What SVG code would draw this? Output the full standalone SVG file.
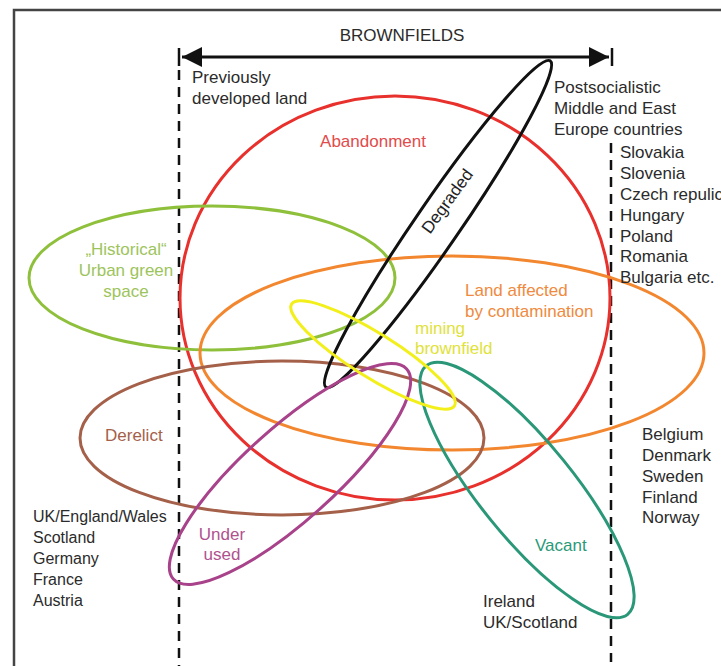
<svg xmlns="http://www.w3.org/2000/svg" width="721" height="666" viewBox="0 0 721 666">
<style>
text{font-family:"Liberation Sans",Arial,sans-serif;font-size:17px;fill:#2b2b2b}
.e{fill:none;stroke-width:3}
.dash{stroke:#111;stroke-width:2.5;stroke-dasharray:10 7;fill:none}
</style>
<defs>
<marker id="ah" viewBox="0 0 10 10" refX="10" refY="5" markerWidth="25" markerHeight="20" markerUnits="userSpaceOnUse" orient="auto-start-reverse">
<path d="M0,0 L10,5 L0,10 Z" fill="#111"/>
</marker>
</defs>
<rect width="721" height="666" fill="#fff"/>
<rect x="14" y="10" width="760" height="720" fill="none" stroke="#444" stroke-width="2.5"/>

<g id="connectors">
<line x1="182" y1="57" x2="609" y2="57" stroke="#111" stroke-width="3" marker-start="url(#ah)" marker-end="url(#ah)"/>
<line x1="179" y1="48" x2="179" y2="66" stroke="#111" stroke-width="2.5"/>
<line x1="612" y1="48" x2="612" y2="66" stroke="#111" stroke-width="2.5"/>
<line class="dash" x1="179" y1="70" x2="179" y2="666"/>
<line class="dash" x1="611" y1="143" x2="611" y2="662"/>
</g>

<g id="abandonment">
<ellipse class="e" cx="395" cy="298" rx="215" ry="202" stroke="#e8302c"/>
<text x="373" y="147" text-anchor="middle" style="fill:#e24b4b">Abandonment</text>
</g>
<g id="historical">
<ellipse class="e" cx="212" cy="278" rx="183" ry="72" stroke="#8fc03c"/>
<text x="126" y="255" text-anchor="middle" style="fill:#9dc45c">„Historical“</text>
<text x="126" y="276" text-anchor="middle" style="fill:#9dc45c">Urban green</text>
<text x="126" y="297" text-anchor="middle" style="fill:#9dc45c">space</text>
</g>
<g id="contamination">
<ellipse class="e" cx="452" cy="353" rx="252" ry="97" stroke="#f2872f"/>
<text x="465" y="296" style="fill:#ef8a40">Land affected</text>
<text x="465" y="317" style="fill:#ef8a40">by contamination</text>
</g>
<g id="derelict">
<ellipse class="e" cx="282" cy="438" rx="202" ry="77" stroke="#a5604a"/>
<text x="105" y="441" style="fill:#a5604a">Derelict</text>
</g>
<g id="degraded">
<ellipse class="e" cx="438" cy="224" rx="198" ry="22" transform="rotate(-55.5 438 224)" stroke="#111"/>
<text x="447" y="207" text-anchor="middle" transform="rotate(-54 447 201)" style="fill:#222">Degraded</text>
</g>
<g id="underused">
<ellipse class="e" cx="290" cy="474" rx="157" ry="46" transform="rotate(-42 290 474)" stroke="#a8428a"/>
<text x="222" y="540" text-anchor="middle" style="fill:#b0528f">Under</text>
<text x="222" y="560" text-anchor="middle" style="fill:#b0528f">used</text>
</g>
<g id="vacant">
<ellipse class="e" cx="527" cy="490" rx="160" ry="47" transform="rotate(51 527 490)" stroke="#2a9878"/>
<text x="535" y="551" style="fill:#2a9a78">Vacant</text>
</g>
<g id="mining">
<ellipse class="e" cx="373" cy="355" rx="96" ry="22" transform="rotate(32 373 355)" stroke="#f2ef1a"/>
<text x="415" y="334" style="fill:#dfe23a">mining</text>
<text x="415" y="354" style="fill:#dfe23a">brownfield</text>
</g>

<g id="labels">
<text x="402" y="41" text-anchor="middle">BROWNFIELDS</text>
<text x="192" y="83">Previously</text>
<text x="192" y="104">developed land</text>
<text x="554" y="93">Postsocialistic</text>
<text x="554" y="114">Middle and East</text>
<text x="554" y="135">Europe countries</text>
<text x="620" y="158">Slovakia</text>
<text x="620" y="179">Slovenia</text>
<text x="620" y="200">Czech repulic</text>
<text x="620" y="221">Hungary</text>
<text x="620" y="242">Poland</text>
<text x="620" y="262">Romania</text>
<text x="620" y="283">Bulgaria etc.</text>
<text x="642" y="440">Belgium</text>
<text x="642" y="461">Denmark</text>
<text x="642" y="482">Sweden</text>
<text x="642" y="503">Finland</text>
<text x="642" y="523">Norway</text>
<text x="483" y="607">Ireland</text>
<text x="483" y="628">UK/Scotland</text>
<text x="33" y="522" style="font-size:16px">UK/England/Wales</text>
<text x="33" y="543" style="font-size:16px">Scotland</text>
<text x="33" y="564" style="font-size:16px">Germany</text>
<text x="33" y="585" style="font-size:16px">France</text>
<text x="33" y="606" style="font-size:16px">Austria</text>
</g>
</svg>
